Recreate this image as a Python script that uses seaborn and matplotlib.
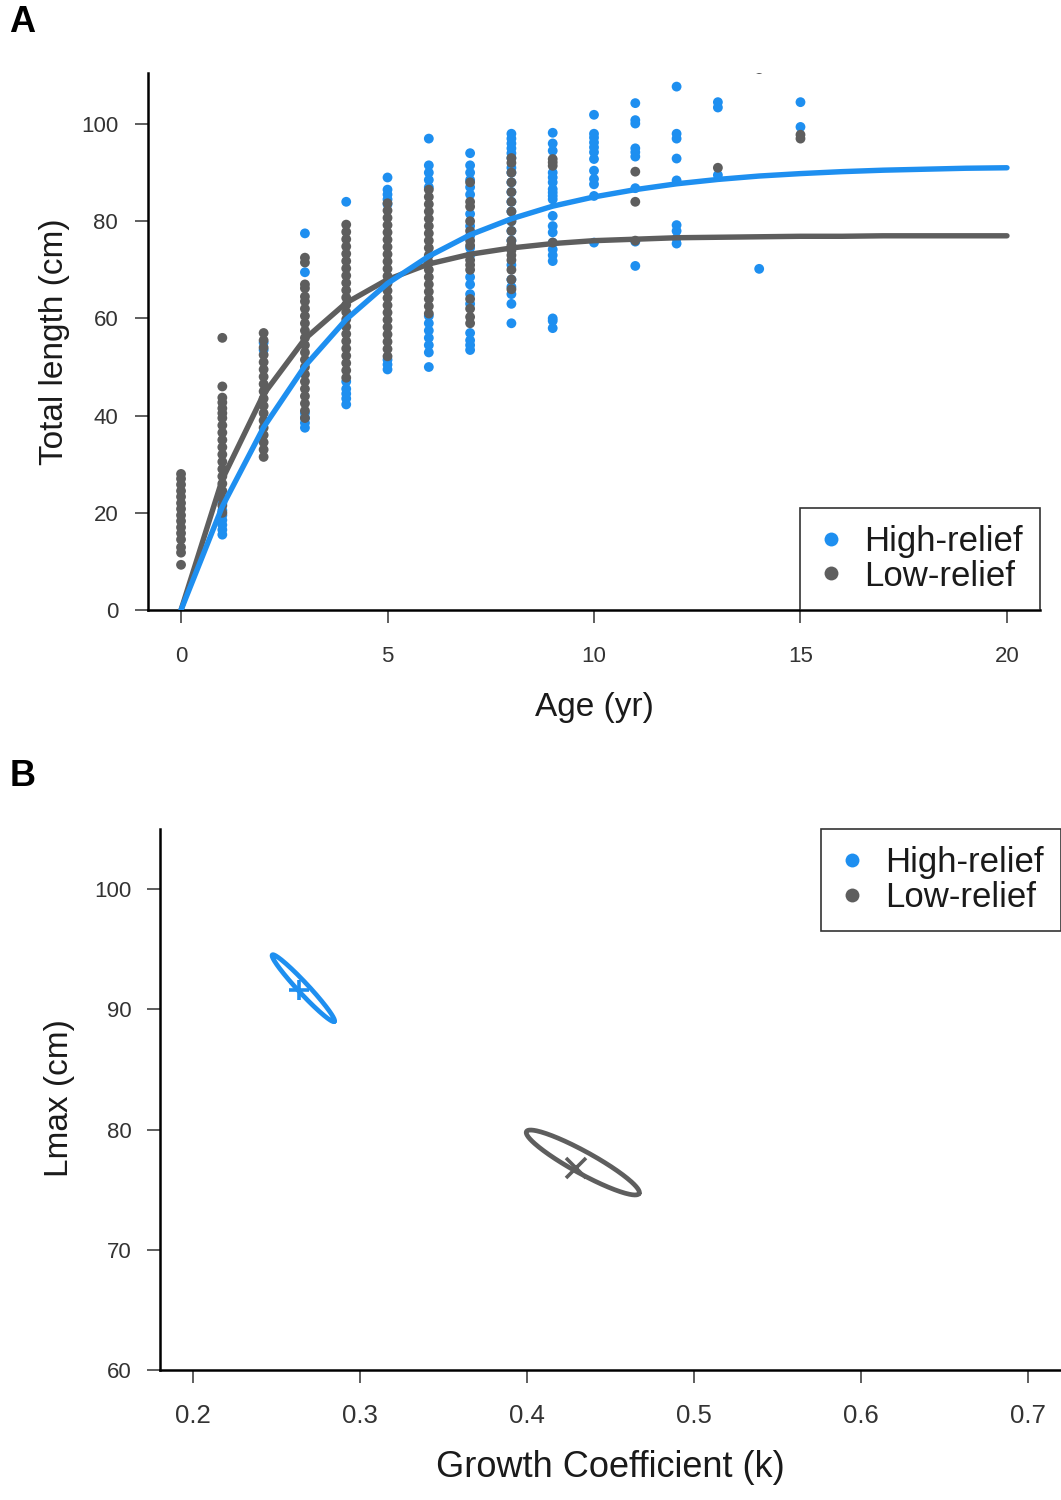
import numpy as np
import pandas as pd
import matplotlib
matplotlib.use("Agg")
import matplotlib.pyplot as plt
import seaborn as sns
from matplotlib.lines import Line2D
from matplotlib import font_manager

# ---------------- data ----------------
groups = ["High-relief", "Low-relief"]
colors = {"High-relief": "#1E8FF0", "Low-relief": "#5E5E5E"}

# observed total length (cm) per age (yr)
high_len = {
    0: [],
    1: [15.5, 16.5, 17.5, 18.5, 19.5, 20.5, 22.0],
    2: [53.5, 55.0],
    3: [37.5, 38.5, 39.5, 40.5, 69.5, 77.5],
    4: [42.3, 43.5, 44.5, 45.5, 47.0, 84.0],
    5: [49.5, 50.5, 51.5, 83.5, 84.5, 85.5, 86.5, 89.0],
    6: [50.0, 53.0, 54.5, 56.0, 57.5, 59.0, 60.5, 87.0, 88.5, 90.0, 91.5, 97.0],
    7: [53.5, 54.5, 55.5, 57.0, 63.0, 65.0, 67.0, 68.5, 73.0, 74.5, 77.0, 79.0,
        81.5, 85.5, 87.0, 88.5, 90.0, 91.5, 94.0],
    8: [59.0, 63.0, 65.0, 66.5, 68.0, 71.0, 76.0, 78.0, 80.0, 82.0, 84.0, 86.0,
        88.0, 90.0, 91.0, 93.0, 94.0, 95.0, 96.0, 97.0, 98.0],
    9: [58.0, 59.5, 60.0, 71.8, 73.0, 74.2, 75.6, 77.7, 79.0, 81.1, 84.5, 85.2,
        85.9, 86.6, 88.0, 89.0, 90.0, 94.5, 96.0, 98.2],
    10: [75.6, 85.2, 87.6, 88.7, 90.4, 92.8, 94.2, 95.2, 96.2, 97.2, 98.0, 101.9],
    11: [70.8, 75.8, 86.8, 93.3, 94.2, 95.0, 100.1, 100.8, 104.3],
    12: [75.4, 76.5, 78.0, 79.2, 88.4, 92.9, 97.0, 98.0, 107.7],
    13: [89.5, 103.4, 104.5],
    14: [70.2],
    15: [99.4, 104.5],
}
low_len = {
    0: [9.3, 11.8, 12.9, 14.5, 15.8, 17.0, 18.3, 19.5, 20.8, 22.0, 23.3, 24.5,
        25.8, 27.0, 28.0],
    1: [20.0, 21.5, 23.0, 24.5, 26.0, 27.5, 29.0, 30.5, 32.0, 33.5, 35.0, 36.5,
        38.0, 39.5, 40.5, 41.5, 42.7, 43.7, 46.0, 56.0],
    2: [31.5, 33.0, 34.5, 36.0, 37.5, 39.0, 40.5, 42.0, 43.5, 45.0, 46.5, 48.0,
        49.5, 51.0, 52.5, 54.0, 55.5, 57.0],
    3: [39.5, 41.0, 42.5, 44.0, 45.5, 47.0, 48.5, 50.0, 51.5, 53.0, 54.5, 56.0,
        57.5, 59.0, 60.5, 62.0, 63.5, 64.5, 66.2, 67.0, 71.5, 72.5],
    4: [47.8, 49.3, 50.8, 52.3, 53.8, 55.3, 56.8, 58.3, 59.8, 61.3, 62.8, 64.3,
        65.8, 67.3, 68.8, 70.3, 71.8, 73.3, 74.8, 76.3, 77.8, 79.3],
    5: [52.2, 53.7, 55.2, 56.7, 58.2, 59.7, 61.2, 62.7, 64.2, 65.7, 67.2, 68.7,
        70.2, 71.7, 73.2, 74.7, 76.2, 77.7, 79.2, 80.7, 82.2, 83.7],
    6: [61.0, 62.5, 64.0, 65.5, 67.0, 68.5, 70.0, 71.5, 73.0, 74.5, 76.0, 77.5,
        79.0, 80.5, 82.0, 83.5, 85.0, 86.5],
    7: [59.0, 60.3, 62.0, 64.0, 70.0, 71.0, 72.0, 75.0, 76.0, 78.0, 80.0, 83.0,
        84.0, 88.0],
    8: [66.0, 68.0, 70.0, 72.0, 73.0, 74.0, 75.0, 76.0, 78.0, 80.0, 82.0, 84.0,
        86.0, 88.0, 90.0, 92.0, 93.0],
    9: [75.6, 91.4, 92.1, 92.8],
    10: [],
    11: [76.0, 84.0, 90.2],
    12: [],
    13: [91.0],
    14: [111.3],
    15: [97.0, 97.8],
}

# fitted growth curves (cm) at ages 0..20
curve_age = list(range(21))
curve_high = [0.0, 21.3, 37.6, 50.2, 59.8, 67.2, 72.8, 77.2, 80.5, 83.1, 85.0,
              86.5, 87.7, 88.6, 89.3, 89.8, 90.2, 90.5, 90.7, 90.9, 91.0]
curve_low = [0.0, 26.9, 44.4, 55.8, 63.2, 68.0, 71.2, 73.2, 74.5, 75.4, 76.0,
             76.3, 76.6, 76.7, 76.8, 76.9, 76.9, 77.0, 77.0, 77.0, 77.0]

# panel B: confidence ellipses for (k, Lmax)
ell_center = {"High-relief": (0.2659, 91.76), "Low-relief": (0.4334, 77.26)}
ell_major = {"High-relief": (0.0186, -2.77), "Low-relief": (0.03375, -2.579)}
ell_minor = {"High-relief": (0.0023, 0.30), "Low-relief": (0.00320, 0.80)}
est_point = {"High-relief": (0.2636, 91.6), "Low-relief": (0.4294, 76.8)}
est_marker = {"High-relief": "+", "Low-relief": "x"}

age_ticks = [0, 5, 10, 15, 20]
len_ticks = [0, 20, 40, 60, 80, 100]
k_ticks = [0.2, 0.3, 0.4, 0.5, 0.6, 0.7]
k_labels = ["0.2", "0.3", "0.4", "0.5", "0.6", "0.7"]
lmax_ticks = [60, 70, 80, 90, 100]

# ---------------- style ----------------
sns.set_theme(style="white")
plt.rcParams["font.family"] = ["Liberation Sans", "DejaVu Sans"]
avail = {f.name for f in font_manager.fontManager.ttflist}
narrow = ["Liberation Sans Narrow", "Liberation Sans", "DejaVu Sans"] if "Liberation Sans Narrow" in avail \
    else ["Liberation Sans", "DejaVu Sans"]
xk_size = 21 if "Liberation Sans Narrow" in avail else 18.5

TXT = "#1a1a1a"
fig = plt.figure(figsize=(10.61, 15.0), dpi=100)
W, H = 1061, 1500
axA = fig.add_axes([148 / W, 1 - 610 / H, (1040 - 148) / W, (610 - 73) / H])
axB = fig.add_axes([160 / W, 1 - 1370 / H, (1061 - 160) / W, (1370 - 829) / H])

# ---------------- panel A ----------------
rows = []
for g, d in (("High-relief", high_len), ("Low-relief", low_len)):
    for a in range(16):
        for v in d[a]:
            rows.append({"age": a, "length": v, "group": g})
df = pd.DataFrame(rows)

sns.scatterplot(data=df, x="age", y="length", hue="group", palette=colors,
                s=50, linewidth=0, legend=False, ax=axA, zorder=2)
sns.lineplot(x=curve_age, y=curve_low, color=colors["Low-relief"], lw=3.9,
             ax=axA, zorder=3, estimator=None)
sns.lineplot(x=curve_age, y=curve_high, color=colors["High-relief"], lw=3.9,
             ax=axA, zorder=4, estimator=None)

axA.set_xlim(-0.8, 20.8)
axA.set_ylim(0, 110.5)
axA.set_xticks(age_ticks)
axA.set_xticklabels([str(t) for t in age_ticks])
axA.set_yticks(len_ticks)
axA.set_yticklabels([str(t) for t in len_ticks])
axA.set_xlabel("Age (yr)", fontsize=24, color=TXT)
axA.set_ylabel("Total length (cm)", fontsize=24, color=TXT)
axA.xaxis.set_label_coords(0.5, -0.181)
axA.xaxis.label.set_va("center")
axA.yaxis.set_label_coords(-0.105, 0.5)
axA.yaxis.label.set_va("center")
axA.tick_params(axis="x", bottom=True, length=9.5, width=1.1, pad=16.5,
                labelsize=16, colors="#333333", direction="out")
axA.tick_params(axis="y", left=True, length=9.5, width=1.1, pad=12,
                labelsize=16, colors="#333333", direction="out")

# ---------------- panel B ----------------
t = np.linspace(0, 2 * np.pi, 200)
for g in groups:
    cx, cy = ell_center[g]
    ux, uy = ell_major[g]
    vx, vy = ell_minor[g]
    ex = cx + ux * np.cos(t) + vx * np.sin(t)
    ey = cy + uy * np.cos(t) + vy * np.sin(t)
    axB.plot(ex, ey, color=colors[g], lw=3.4, zorder=3)
    px, py = est_point[g]
    axB.plot([px], [py], marker=est_marker[g], ms=15, mew=2.6,
             color=colors[g], ls="", zorder=4)

axB.set_xlim(0.18, 0.72)
axB.set_ylim(60, 105)
axB.set_xticks(k_ticks)
axB.set_xticklabels(k_labels, family=narrow, fontsize=xk_size)
axB.set_yticks(lmax_ticks)
axB.set_yticklabels([str(v) for v in lmax_ticks], fontsize=16)
axB.set_xlabel("Growth Coefficient (k)", fontsize=26, color=TXT, family=narrow)
axB.set_ylabel("Lmax (cm)", fontsize=24, color=TXT)
axB.xaxis.set_label_coords(0.5, -0.181)
axB.xaxis.label.set_va("center")
axB.yaxis.set_label_coords(-0.111, 0.503)
axB.yaxis.label.set_va("center")
axB.tick_params(axis="x", bottom=True, length=9.5, width=1.1, pad=15,
                colors="#333333", direction="out")
axB.tick_params(axis="y", left=True, length=9.5, width=1.1, pad=11,
                colors="#333333", direction="out")

# ---------------- common styling ----------------
for ax in (axA, axB):
    for side in ("top", "right"):
        ax.spines[side].set_visible(False)
    for side in ("left", "bottom"):
        ax.spines[side].set_linewidth(1.8)
        ax.spines[side].set_color("black")
    ax.set_facecolor("white")
    ax.grid(False)

handles = [Line2D([], [], marker="o", ls="", color=colors[g], markersize=10,
                  markeredgewidth=0) for g in groups]
for ax, loc in ((axA, "lower right"), (axB, "upper right")):
    leg = ax.legend(handles, groups, loc=loc, borderaxespad=0, fontsize=25,
                    frameon=True, fancybox=False, edgecolor="black",
                    borderpad=0.5, handlelength=0.8, handletextpad=0.55,
                    labelspacing=0.05)
    leg.get_frame().set_linewidth(1.2)
    leg.set_zorder(10)
    for txt in leg.get_texts():
        txt.set_color(TXT)

fig.text(9 / W, 1 - 23 / H, "A", fontsize=26, fontweight="bold", va="center",
         ha="left", color="black")
fig.text(10 / W, 1 - 777 / H, "B", fontsize=26, fontweight="bold", va="center",
         ha="left", color="black")

fig.savefig("out.png", dpi=100, facecolor="white")
